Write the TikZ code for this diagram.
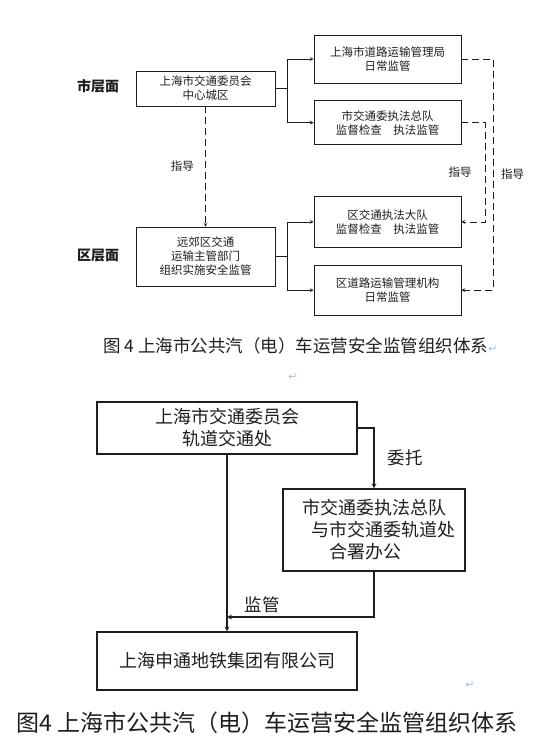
\documentclass[tikz,border=0pt]{standalone}
\usepackage{fontspec}
\setmainfont{Noto Sans CJK SC}
\newfontfamily\marksymbol{DejaVu Sans}
\usetikzlibrary{arrows,positioning}
\definecolor{inkgray}{RGB}{30,30,30}
\definecolor{markblue}{RGB}{165,190,225}

\begin{document}
\begin{tikzpicture}[x=1pt, y=-1pt, >=stealth, line width=0.7pt, color=inkgray]
    % Styles
    \tikzstyle{box} = [rectangle, draw, inner sep=0pt, align=center, minimum width=147pt, font=\fontsize{11.5}{14}\selectfont]
    \tikzstyle{bigbox} = [rectangle, draw, line width=1.2pt, inner sep=0pt, align=center, font=\fontsize{18}{22}\selectfont]
    \tikzstyle{level} = [font=\fontsize{14}{16}\selectfont\bfseries]
    \tikzstyle{tag} = [font=\fontsize{11.5}{13}\selectfont]
    \tikzstyle{bigtag} = [font=\fontsize{17.5}{20}\selectfont]
    \tikzstyle{caption} = [inner sep=0pt, anchor=west]
    \tikzstyle{retmark} = [text=markblue, font=\marksymbol\fontsize{11}{11}\selectfont]
    \tikzstyle{line} = [draw, ->]
    \tikzstyle{guide} = [draw, ->, dash pattern=on 7pt off 4pt]

    \useasboundingbox (0,0) rectangle (538,754);

    % Nodes (upper chart)
    \node [level] (citylevel) at (98,86) {市层面};
    \node [level] (distlevel) at (98,256) {区层面};
    \node [box, minimum width=139pt, minimum height=35pt] (cityhq) at (205.5,88.5) {上海市交通委员会\\中心城区};
    \node [box, minimum width=139pt, minimum height=59pt] (suburb) at (205.5,256.5) {远郊区交通\\运输主管部门\\组织实施安全监管};
    \node [box, minimum height=48pt] (roadbureau) at (387.5,59) {上海市道路运输管理局\\日常监管};
    \node [box, minimum height=44pt, below=17pt of roadbureau] (enforcecorps) {市交通委执法总队\\监督检查\hspace{1em}执法监管};
    \node [box, minimum height=51pt, below=51pt of enforcecorps] (distenforce) {区交通执法大队\\监督检查\hspace{1em}执法监管};
    \node [box, minimum height=50pt, below=17pt of distenforce] (distroad) {区道路运输管理机构\\日常监管};

    % Edges (upper chart)
    \draw [->] (cityhq.east) -- ++(12,0) coordinate (citysplit) |- (roadbureau.west);
    \draw [->] (citysplit) |- (enforcecorps.west);
    \draw [->] (suburb.east) -- ++(12,0) coordinate (distsplit) |- (distenforce.west);
    \draw [->] (distsplit) |- (distroad.west);
    \path [guide] (cityhq.south) -- node[tag, left=8pt] {指导} (suburb.north);
    \path [guide] (enforcecorps.east) -- ++(24,0) |- node[tag, pos=0.25, left=10pt] {指导} (distenforce.east);
    \path [guide] (roadbureau.east) -- ++(32,0) |- node[tag, pos=0.25, right=4pt] {指导} (distroad.east);

    % Captions and paragraph marks
    \node [caption, font=\fontsize{17.5}{20}\selectfont] (captionone) at (103,346) {图 4 上海市公共汽（电）车运营安全监管组织体系{\marksymbol\color{markblue}\fontsize{11}{11}\selectfont ↵}};
    \node [retmark] (blankmark) at (293,377) {↵};

    % Nodes (lower chart)
    \node [bigbox, minimum width=260pt, minimum height=52pt] (railoffice) at (227,428) {上海市交通委员会\\轨道交通处};
    \node [bigbox, minimum width=182pt, minimum height=82pt] (jointoffice) at (374,530) {市交通委执法总队\\\hspace*{18pt}与市交通委轨道处\\合署办公\hspace*{18pt}};
    \node [bigbox, minimum width=260pt, minimum height=58pt] (shentong) at (227,661) {上海申通地铁集团有限公司};
    \coordinate (mergept) at (227,617);

    % Edges (lower chart)
    \draw [->, line width=1.2pt] (railoffice.east) -| node[bigtag, pos=0.75, right=10pt] {委托} (jointoffice.north);
    \draw [->, line width=1.2pt] (railoffice.south) -- (shentong.north);
    \draw [->, line width=1.2pt] (jointoffice.south) |- node[bigtag, pos=0.88, above] {监管} (mergept);

    \node [retmark] (endmark) at (470,685) {↵};
    \node [caption, font=\fontsize{23}{25}\selectfont] (captiontwo) at (16,723) {图4 上海市公共汽（电）车运营安全监管组织体系};

\end{tikzpicture}
\end{document}
